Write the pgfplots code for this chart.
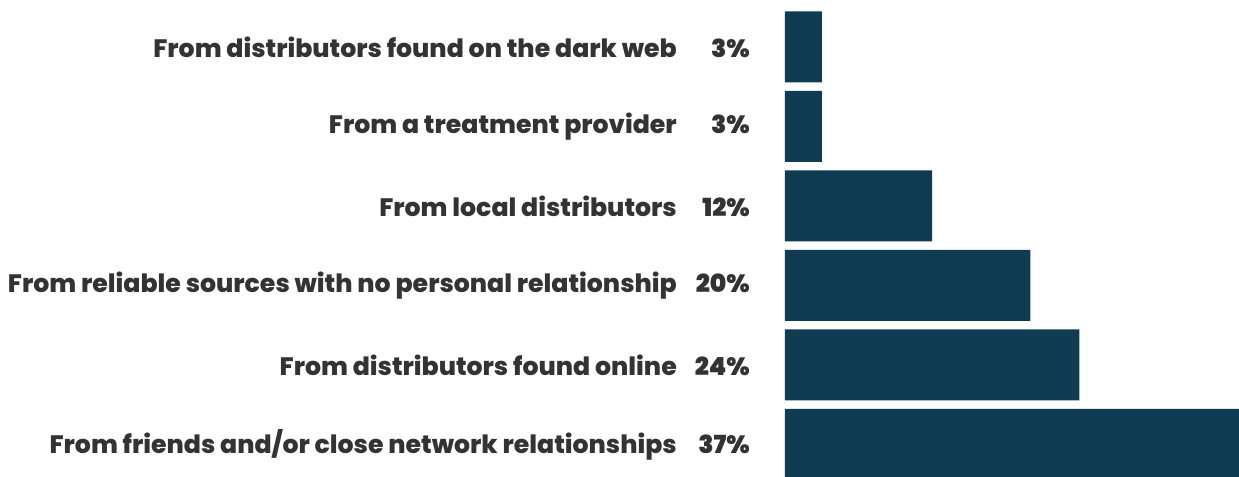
\documentclass[border=0pt]{standalone}
\usepackage{fontspec}
\setmainfont{Poppins}[BoldFont={* ExtraBold}]
\newfontfamily\pctfont{Poppins}[UprightFont={* SemiBold}]
\usepackage{pgfplots}
\pgfplotsset{compat=1.18}
\definecolor{barc}{HTML}{0F3B53}
\definecolor{txt}{HTML}{333333}
\newcommand{\lab}[2]{\bfseries #1\makebox[73bp][r]{\fontsize{25}{30}\pctfont #2\%}}
\begin{document}
\begin{tikzpicture}
\begin{axis}[
  at={(0,0)}, anchor=south west,
  scale only axis, width=454bp, height=477bp,
  xmin=0, xmax=37, ymin=0.591, ymax=6.591,
  axis line style={draw=none},
  xtick=\empty, ytick={1,2,3,4,5,6},
  major tick length=0pt,
  yticklabels={
    \lab{From friends and/or close network relationships}{37},
    \lab{From distributors found online}{24},
    \lab{From reliable sources with no personal relationship}{20},
    \lab{From local distributors}{12},
    \lab{From a treatment provider}{3},
    \lab{From distributors found on the dark web}{3}},
  y tick label style={anchor=east, inner sep=0pt, xshift=-35bp, font=\fontsize{25.3}{30}\selectfont, text=txt},
  xbar, bar width=71bp,
]
\addplot[fill=barc, draw=none] coordinates {(37,1) (24,2) (20,3) (12,4) (3,5) (3,6)};
\end{axis}
\pgfresetboundingbox
\path[use as bounding box] (-785bp,0) rectangle (454bp,477bp);
\end{tikzpicture}
\end{document}
